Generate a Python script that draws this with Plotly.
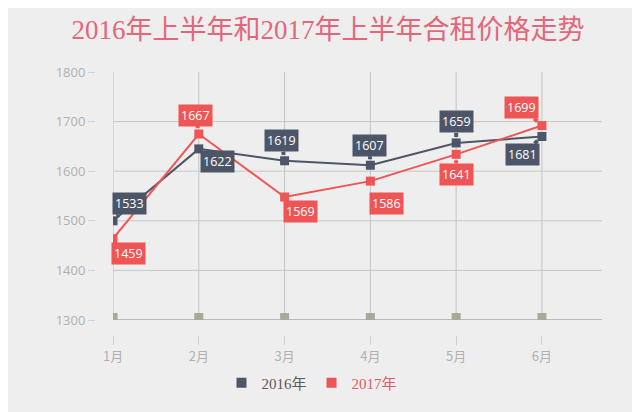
import plotly.graph_objects as go

# data
months = ['1月', '2月', '3月', '4月', '5月', '6月']
rent_2016 = [1500, 1645, 1621, 1612, 1657, 1670]   # where the points sit
rent_2017 = [1464, 1675, 1548, 1580, 1634, 1692]
labels_2016 = ['1533', '1622', '1619', '1607', '1659', '1681']   # what the callouts say
labels_2017 = ['1459', '1667', '1569', '1586', '1641', '1699']
base_marks = [1305, 1305, 1305, 1305, 1305, 1305]
y_ticks = [1300, 1400, 1500, 1600, 1700, 1800]

DARK = '#4d5668'
RED = '#ef5555'
BG = '#efeeee'

# callout offsets in px (box centre relative to point)
off_2016 = [(16, -17), (19, 13), (-3, -20), (-1, -20), (0, -21), (-19, 18)]
off_2017 = [(15, 15), (-3, -19), (16, 15), (16, 22), (0, 20), (-20, -18)]

fig = go.Figure()

fig.add_trace(go.Scatter(x=months, y=base_marks, mode='markers', showlegend=False,
                         marker=dict(symbol='square', size=9, color='#aaa898'),
                         hoverinfo='skip'))
fig.add_trace(go.Scatter(x=months, y=rent_2016, mode='lines+markers', showlegend=False,
                         line=dict(color=DARK, width=2),
                         marker=dict(symbol='square', size=9, color=DARK)))
fig.add_trace(go.Scatter(x=months, y=rent_2017, mode='lines+markers', showlegend=False,
                         line=dict(color=RED, width=2),
                         marker=dict(symbol='square', size=9, color=RED)))

# legend entries: plain squares only
fig.add_trace(go.Scatter(x=[None], y=[None], mode='markers',
                         name="<span style='color:#5a5a5a'>2016年</span>",
                         marker=dict(symbol='square', size=10, color=DARK)))
fig.add_trace(go.Scatter(x=[None], y=[None], mode='markers',
                         name="<span style='color:#d95c68'>2017年</span>",
                         marker=dict(symbol='square', size=10, color=RED)))

# callouts
for vals, labs, offs, col in [(rent_2016, labels_2016, off_2016, DARK),
                              (rent_2017, labels_2017, off_2017, RED)]:
    for m, v, t, (dx, dy) in zip(months, vals, labs, offs):
        fig.add_annotation(x=m, y=v, text=t, ax=dx, ay=dy, axref='pixel', ayref='pixel',
                           showarrow=True, arrowhead=0, arrowwidth=4, arrowcolor=col,
                           standoff=6, bgcolor=col, borderpad=2,
                           font=dict(family='Open Sans', size=12.5, color='white'))

# grid lines
for v in y_ticks[1:-1]:
    fig.add_shape(type='line', xref='x domain', x0=0, x1=1, yref='y', y0=v, y1=v,
                  line=dict(color='#c6c6c6', width=1), layer='below')
for i, m in enumerate(months):
    fig.add_shape(type='line', xref='x', x0=i, x1=i, yref='y', y0=y_ticks[0], y1=y_ticks[-1],
                  line=dict(color='#c2c2c2', width=1), layer='below')
fig.add_shape(type='line', xref='x domain', x0=0, x1=1, yref='y', y0=y_ticks[0], y1=y_ticks[0],
              line=dict(color='#a9a9a9', width=1.5), layer='below')

fig.update_layout(
    width=640, height=412,
    paper_bgcolor=BG, plot_bgcolor=BG,
    margin=dict(l=0, r=0, t=60, b=60, autoexpand=False),
    title=dict(text='2016年上半年和2017年上半年合租价格走势', x=0.5, xanchor='center',
               y=0.947, yanchor='middle',
               font=dict(family='Liberation Serif, Noto Sans CJK SC', size=27, color='#e3677a')),
    xaxis=dict(domain=[0.1641, 0.9281], range=[0, 5.7], type='category', automargin=False,
               anchor='free', position=0.0856, showgrid=False, showline=False, zeroline=False,
               ticks='outside', ticklen=9, tickcolor='#d0d0d0', tickwidth=1,
               tickfont=dict(family='Noto Sans CJK SC', size=13, color='#b0b0b0')),
    yaxis=dict(domain=[0.137, 0.9863], range=[1300, 1800], tickvals=y_ticks, automargin=False,
               anchor='free', position=0.1359, showgrid=False, showline=False, zeroline=False,
               ticks='outside', ticklen=7, tickcolor='#d0d0d0', tickwidth=1,
               tickfont=dict(family='Open Sans', size=13, color='#b0b0b0')),
    legend=dict(orientation='h', x=0.475, xanchor='center', y=-0.079, yanchor='middle',
                font=dict(family='Liberation Serif, Noto Sans CJK SC', size=15),
                itemwidth=30),
)

fig.write_html('out.html')
